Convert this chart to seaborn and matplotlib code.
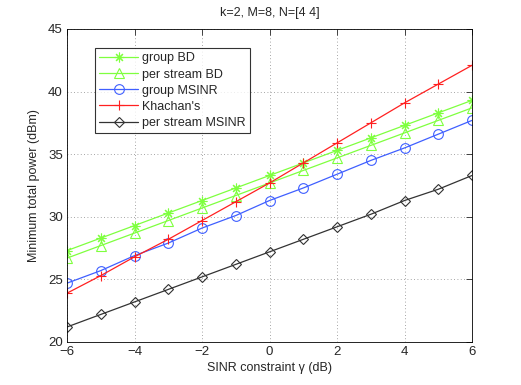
import pandas as pd
import matplotlib
matplotlib.use("Agg")
import matplotlib.pyplot as plt
import seaborn as sns
import numpy as np

sinr = [-6, -5, -4, -3, -2, -1, 0, 1, 2, 3, 4, 5, 6]
group_bd = [27.3, 28.3, 29.3, 30.3, 31.3, 32.3, 33.3, 34.3, 35.3, 36.3, 37.3, 38.3, 39.3]
stream_bd = [26.7, 27.7, 28.7, 29.7, 30.7, 31.7, 32.7, 33.7, 34.7, 35.7, 36.7, 37.7, 38.7]
group_msinr = [24.7, 25.7, 26.9, 27.9, 29.1, 30.1, 31.3, 32.3, 33.4, 34.5, 35.5, 36.6, 37.7]
khachan = [23.9, 25.3, 26.8, 28.2, 29.7, 31.2, 32.7, 34.3, 35.9, 37.5, 39.1, 40.6, 42.1]
stream_msinr = [21.2, 22.2, 23.2, 24.2, 25.2, 26.2, 27.2, 28.2, 29.2, 30.2, 31.3, 32.2, 33.3]

names = ["group BD", "per stream BD", "group MSINR", "Khachan's", "per stream MSINR"]
series = [group_bd, stream_bd, group_msinr, khachan, stream_msinr]
colors = ["#7fff3f", "#7fff3f", "#3f5fff", "#ff2020", "#333333"]
markers = [(8, 2, 0), "^", "o", "+", "D"]
msizes = [7, 7, 7, 7, 5.5]

sns.set_style("white")
plt.rcParams["font.family"] = ["Liberation Sans", "DejaVu Sans"]

fig = plt.figure(figsize=(5.21, 3.85), dpi=100)
ax = fig.add_axes([0.1286, 0.1117, 0.7774, 0.8130])

for name, vals, c, m, ms in zip(names, series, colors, markers, msizes):
    df = pd.DataFrame({"x": sinr, "y": vals})
    sns.lineplot(data=df, x="x", y="y", ax=ax, color=c, marker=m, markersize=ms,
                 markerfacecolor="none", markeredgecolor=c, markeredgewidth=0.8,
                 linewidth=0.9, label=name)

ax.set_xlim(-6, 6)
ax.set_ylim(20, 45)
ax.set_xticks(np.arange(-6, 7, 2))
ax.set_yticks(np.arange(20, 46, 5))
ax.set_xticklabels(["\u22126", "\u22124", "\u22122", "0", "2", "4", "6"])
ax.grid(True, linestyle=(0, (1, 3)), color="#888888", linewidth=0.6)
ax.tick_params(direction="in", top=True, right=True, labelsize=9.5, length=4, width=0.6, pad=3)
for s in ax.spines.values():
    s.set_color("black")
    s.set_linewidth(0.6)

ax.set_xlabel("SINR constraint \u03b3 (dB)", fontsize=9, labelpad=3)
ax.set_ylabel("Minimum total power (dBm)", fontsize=9, labelpad=6)
ax.set_title("k=2, M=8, N=[4 4]", fontsize=9, pad=9)

leg = ax.legend(loc="upper left", bbox_to_anchor=(0.069, 0.939), fontsize=9,
                frameon=True, fancybox=False, edgecolor="black", borderpad=0.35,
                labelspacing=0.33, handlelength=3.1, handletextpad=0.3, borderaxespad=0)
leg.get_frame().set_linewidth(0.8)

fig.savefig("out.png", dpi=100)
